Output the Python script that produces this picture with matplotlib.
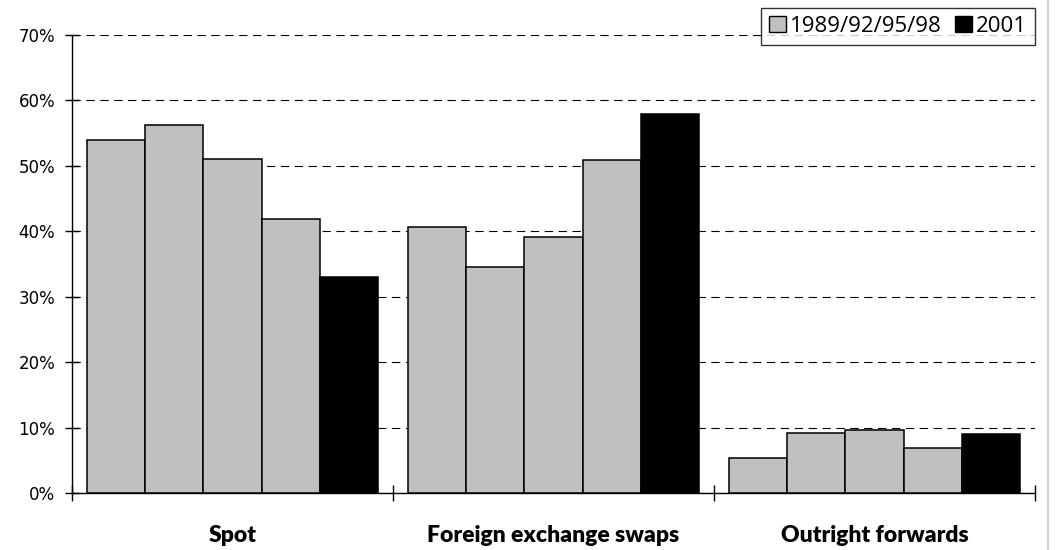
import matplotlib
matplotlib.use('Agg')
from matplotlib import pyplot as plt
from matplotlib.patches import Patch
from matplotlib.lines import Line2D
import matplotlib.ticker as mticker
import numpy as np

categories = ['Spot', 'Foreign exchange swaps', 'Outright forwards']
years = ['1989', '1992', '1995', '1998', '2001']

# share of turnover (%) by instrument, one list per survey year
share_1989 = [54.0, 40.6, 5.4]
share_1992 = [56.2, 34.5, 9.1]
share_1995 = [51.0, 39.2, 9.6]
share_1998 = [41.9, 50.9, 6.9]
share_2001 = [33.0, 58.0, 9.0]
series = [share_1989, share_1992, share_1995, share_1998, share_2001]
bar_colors = ['#c0c0c0', '#c0c0c0', '#c0c0c0', '#c0c0c0', '#000000']
legend_labels = ['1989/92/95/98', '2001']

fig = plt.figure(figsize=(10.55, 5.5), dpi=100)
ax = fig.add_axes([72 / 1055, 57 / 550, 963 / 1055, 458 / 550])

x = np.arange(len(categories))
n = len(series)
width = 1 / (n + 0.5)
for i, vals in enumerate(series):
    ax.bar(x + (i - (n - 1) / 2) * width, vals, width=width,
           color=bar_colors[i], edgecolor='black', linewidth=1.1, zorder=3)

ax.set_xlim(-0.5, 2.5)
ax.set_ylim(0, 70)
ax.yaxis.set_major_locator(mticker.MultipleLocator(10))
ax.yaxis.set_major_formatter(mticker.FuncFormatter(lambda v, _: f'{int(v)}%'))
ax.yaxis.grid(True, color='black', linestyle=(0, (7.5, 5)), linewidth=0.8, zorder=0)
ax.set_axisbelow(True)

ax.set_xticks(x)
ax.set_xticklabels(categories, fontsize=16.5, fontweight='heavy', family='Lato')
ax.xaxis.set_minor_locator(mticker.FixedLocator([-0.5, 0.5, 1.5, 2.5]))
ax.tick_params(axis='x', which='major', length=0, pad=23)
ax.tick_params(axis='x', which='minor', direction='inout', length=12, width=1)
ax.tick_params(axis='y', direction='inout', length=10, width=1, labelsize=12, pad=7)
for lbl in ax.get_yticklabels():
    lbl.set_family('DejaVu Sans')

for side in ['top', 'right']:
    ax.spines[side].set_visible(False)
ax.spines['left'].set_linewidth(1)
ax.spines['bottom'].set_linewidth(1)

handles = [Patch(facecolor='#c0c0c0', edgecolor='black', linewidth=1),
           Patch(facecolor='black', edgecolor='black', linewidth=1)]
leg = fig.legend(handles, legend_labels, loc='upper right',
                 bbox_to_anchor=(1035 / 1055, 1 - 8 / 550), ncol=2,
                 prop={'family': 'Open Sans', 'size': 16},
                 frameon=True, fancybox=False, edgecolor='black',
                 handlelength=0.75, handleheight=0.75, handletextpad=0.2,
                 columnspacing=0.6, borderpad=0.35, borderaxespad=0)
leg.get_frame().set_linewidth(1)

# thin frame line at right edge
fig.add_artist(Line2D([1048 / 1055, 1048 / 1055], [0, 1], color='#c8c8c8', linewidth=1.2))

fig.savefig('out.png', dpi=100)
